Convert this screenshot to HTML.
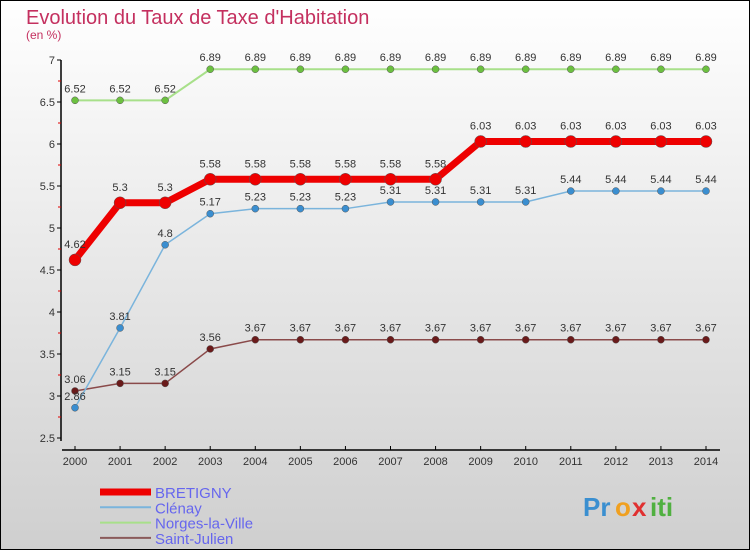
<!DOCTYPE html>
<html><head><meta charset="utf-8"><style>
html,body{margin:0;padding:0}
body{width:750px;height:550px;overflow:hidden;font-family:"Liberation Sans",sans-serif}
</style></head><body>
<svg id="chart" width="750" height="550" xmlns="http://www.w3.org/2000/svg">
<defs><linearGradient id="bg" x1="0" y1="0" x2="0" y2="1"><stop offset="0" stop-color="#ffffff"/><stop offset="1" stop-color="#cfcfcf"/></linearGradient></defs>
<rect x="0.5" y="0.5" width="749" height="549" fill="url(#bg)" stroke="#000"/>
<text x="26" y="24" font-size="20" fill="#c4305f">Evolution du Taux de Taxe d'Habitation</text>
<text x="26" y="39" font-size="12" fill="#c4305f">(en %)</text>
<g id="axes"></g><g id="series"></g><g id="legend"></g>
<g font-size="26" font-weight="bold">
<text x="583" y="516" fill="#3a8fd0">Pr</text><text x="615" y="516" fill="#f0a020">o</text><text x="632" y="516" fill="#e03030">x</text><text x="650" y="516" fill="#50b040">iti</text>
</g>
</svg>
<script>
const years = [2000,2001,2002,2003,2004,2005,2006,2007,2008,2009,2010,2011,2012,2013,2014];
const bretigny = [4.62,5.3,5.3,5.58,5.58,5.58,5.58,5.58,5.58,6.03,6.03,6.03,6.03,6.03,6.03];
const clenay = [2.86,3.81,4.8,5.17,5.23,5.23,5.23,5.31,5.31,5.31,5.31,5.44,5.44,5.44,5.44];
const norges = [6.52,6.52,6.52,6.89,6.89,6.89,6.89,6.89,6.89,6.89,6.89,6.89,6.89,6.89,6.89];
const stjulien = [3.06,3.15,3.15,3.56,3.67,3.67,3.67,3.67,3.67,3.67,3.67,3.67,3.67,3.67,3.67];
const yTicks = [2.5,3,3.5,4,4.5,5,5.5,6,6.5,7];
const NS="http://www.w3.org/2000/svg";
const X=i=>75+i*(706-75)/(years.length-1);
const Y=v=>438-(v-2.5)*84;
function mk(tag,attrs,parent,text){const e=document.createElementNS(NS,tag);for(const k in attrs)e.setAttribute(k,attrs[k]);if(text!==undefined)e.textContent=text;parent.appendChild(e);return e;}
const axes=document.getElementById('axes');
let e=mk('line',{x1:61,y1:60,x2:61,y2:441,stroke:'#000','stroke-width':1.5},axes);


yTicks.forEach(v=>{mk('line',{x1:57,x2:61,y1:Y(v),y2:Y(v),stroke:'#000'},axes);
 const t=mk('text',{x:55,y:Y(v)+4,'text-anchor':'end','font-size':11,fill:'#333'},axes,String(v));
 
 
 if(v<7) mk('line',{x1:58,x2:61,y1:Y(v+0.25),y2:Y(v+0.25),stroke:'#e00000'},axes);});
e=mk('line',{x1:62,y1:450,x2:720,y2:450,stroke:'#000','stroke-width':1.5},axes);


years.forEach((y,i)=>{mk('line',{x1:X(i),x2:X(i),y1:446,y2:450,stroke:'#000'},axes);
 const t=mk('text',{x:X(i),y:465,'text-anchor':'middle','font-size':11,fill:'#333'},axes,String(y));
 
 });
const ser=document.getElementById('series');
function draw(name,vals,color,w,r,dot,labelOff){
 const g=mk('g',{},ser);
 
 
 mk('polyline',{points:vals.map((v,i)=>X(i)+','+Y(v)).join(' '),fill:'none',stroke:color,'stroke-width':w},g);
 vals.forEach((v,i)=>{const c=mk('circle',{cx:X(i),cy:Y(v),r:r,fill:dot,stroke:'#555','stroke-width':0.5},g);
  
  
  const t=mk('text',{x:X(i),y:Y(v)+labelOff,'text-anchor':'middle','font-size':11,fill:'#333'},g,String(v));
  
  });
}
draw('norges',norges,'#a8e08a',2,3.5,'#6cc040',-8);
draw('saint-julien',stjulien,'#8a4a4a',1.5,3.5,'#6a1a1a',-8);
draw('clenay',clenay,'#7ab4dc',1.5,3.5,'#3a8ed0',-8);
draw('bretigny',bretigny,'#ee0000',7,6,'#ee0000',-12);
const leg=document.getElementById('legend');
[['BRETIGNY','#ee0000',7],['Clénay','#7ab4dc',2],['Norges-la-Ville','#a8e08a',2],['Saint-Julien','#8a5a5a',2]].forEach((d,i)=>{
 const yy=492+i*15.3;
 const g=mk('g',{},leg);
 
 
 mk('line',{x1:100,x2:151,y1:yy,y2:yy,stroke:d[1],'stroke-width':d[2]},g);
 mk('text',{x:155,y:yy+6,'font-size':15,fill:'#6666ee'},g,d[0]);
});
</script>
</body></html>
